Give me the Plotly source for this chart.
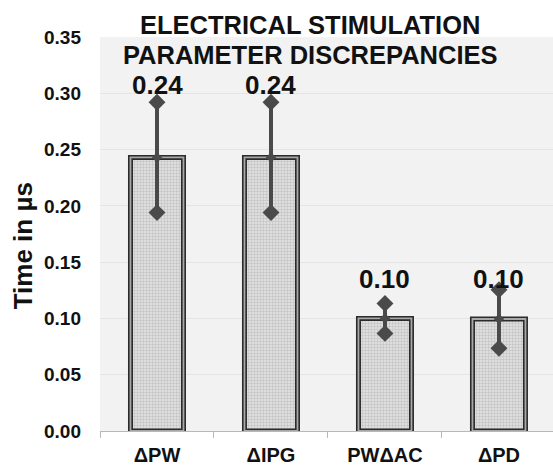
import plotly.graph_objects as go

# Mean discrepancy per stimulation parameter, with its spread
categories = ["\u0394PW", "\u0394IPG", "PW\u0394AC", "\u0394PD"]
means = [0.243, 0.243, 0.100, 0.0995]
errors = [0.049, 0.049, 0.0133, 0.026]
labels = ["0.24", "0.24", "0.10", "0.10"]

FONT = "Liberation Sans, Arial, sans-serif"
DARK = "#4a4a4a"
INK = "#111111"
label_shift = [17, 17, 24, 11]

fig = go.Figure()

# Patterned bars with a double outline (thick dark edge, lighter stripe on top)
fig.add_trace(go.Bar(
    x=categories, y=means, width=0.465,
    marker=dict(
        color="#d6d6d6",
        line=dict(color="#2b2b2b", width=5),
        pattern=dict(shape="+", size=3, solidity=0.4,
                     fgcolor="#aaaaaa", bgcolor="#dedede"),
    ),
    hoverinfo="skip",
))
fig.add_trace(go.Bar(
    x=categories, y=means, width=0.465,
    marker=dict(color="rgba(0,0,0,0)", line=dict(color="#a8a8a8", width=1.8)),
    hoverinfo="skip",
))

# Error bars drawn over the bars
fig.add_trace(go.Scatter(
    x=categories, y=means, mode="markers",
    marker=dict(symbol="diamond", size=8, color=DARK),
    error_y=dict(type="data", array=errors, color=DARK, thickness=4, width=0),
    hoverinfo="skip",
))
ends_x = categories + categories
ends_y = [m + e for m, e in zip(means, errors)] + [m - e for m, e in zip(means, errors)]
fig.add_trace(go.Scatter(
    x=ends_x, y=ends_y, mode="markers",
    marker=dict(symbol="diamond", size=13, color=DARK),
    hoverinfo="skip",
))

# Value labels above each error bar
for c, m, e, t, s in zip(categories, means, errors, labels, label_shift):
    fig.add_annotation(
        x=c, y=m + e, text=f"<b>{t}</b>", showarrow=False,
        yanchor="middle", yshift=s,
        font=dict(family=FONT, size=26, color=INK),
    )

# Two-line chart title sitting over the top of the plot area
for line, ypos in (("ELECTRICAL STIMULATION", 1.031), ("PARAMETER DISCREPANCIES", 0.955)):
    fig.add_annotation(
        xref="paper", yref="paper", x=0.4636, y=ypos,
        text=f"<b>{line}</b>", showarrow=False,
        xanchor="center", yanchor="middle",
        font=dict(family=FONT, size=25.5, color=INK),
    )

# Vertical axis title
fig.add_annotation(
    xref="paper", yref="paper", x=-0.171, y=0.47,
    text="<b>Time in \u00b5s</b>", textangle=-90, showarrow=False,
    xanchor="center", yanchor="middle",
    font=dict(family=FONT, size=26, color=INK),
)

fig.update_layout(
    width=553, height=466,
    margin=dict(l=100, r=0, t=37, b=33),
    paper_bgcolor="white", plot_bgcolor="#f2f2f2",
    barmode="overlay", showlegend=False,
    font=dict(family=FONT, color=INK),
)
fig.update_xaxes(
    range=[-0.5, 3.474], tickson="boundaries", ticks="outside",
    ticklen=6, tickcolor="#b8b8b8", showline=True, linecolor="#b8b8b8",
    linewidth=1, showgrid=False, zeroline=False, ticklabelstandoff=6,
    tickfont=dict(family=FONT, size=20, color=INK),
    tickprefix="<b>", ticksuffix="</b>",
)
fig.update_yaxes(
    range=[0, 0.35], dtick=0.05, tickformat=".2f",
    showgrid=True, gridcolor="#e4e4e4", gridwidth=1, zeroline=False,
    showline=False, ticks="", ticklabelstandoff=18,
    tickfont=dict(family=FONT, size=19, color=INK),
    tickprefix="<b>", ticksuffix="</b>",
)

fig.write_html("out.html")
